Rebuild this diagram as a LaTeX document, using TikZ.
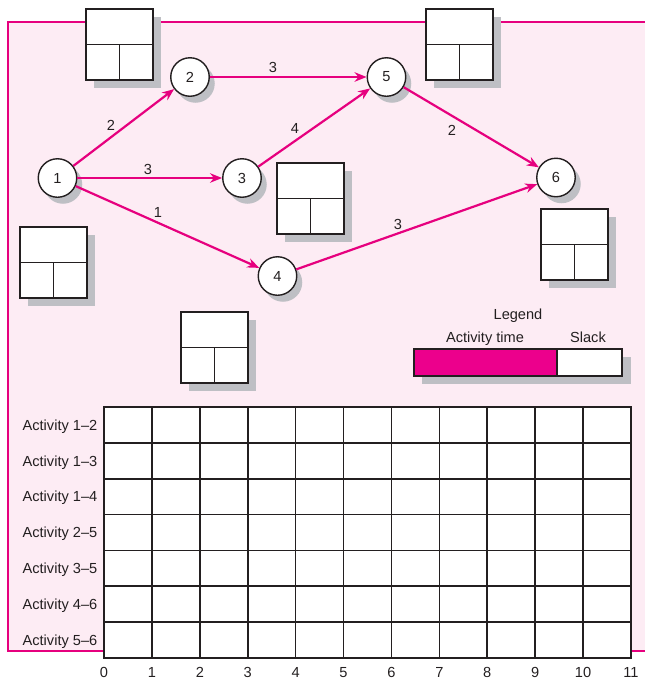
\documentclass[tikz,border=0pt]{standalone}
\usepackage{fontspec}
\setmainfont{Liberation Sans}
\usetikzlibrary{arrows.meta,shadows}
\definecolor{mag}{RGB}{230,0,126}
\definecolor{magfill}{RGB}{236,0,140}
\definecolor{bgpink}{RGB}{253,236,244}
\definecolor{shad}{RGB}{190,191,196}
\definecolor{ink}{RGB}{35,31,32}
\tikzset{
  lbl/.style={font=\fontsize{14.6}{16}\selectfont, text=ink, inner sep=0pt, text height=10.5pt, text depth=0pt},
  boxline/.style={draw=ink, line width=1.7pt},
  gridline/.style={draw=ink, line width=1.7pt},
  event/.style={circle, draw=ink, fill=white, line width=1.4pt, minimum size=38.5pt, inner sep=0pt,
    font=\fontsize{14.6}{16}\selectfont, text=ink,
    drop shadow={shadow xshift=5.5pt, shadow yshift=-6.5pt, fill=shad, opacity=1}},
  arr/.style={draw=mag, line width=2.2pt, -{Stealth[length=12pt,width=9.5pt]}},
}
\newcommand\slackbox[2]{%
  \fill[shad] (#1+8,#2+8) rectangle (#1+75,#2+79);
  \fill[white] (#1,#2) rectangle (#1+67,#2+71);
  \draw[boxline] (#1,#2) rectangle (#1+67,#2+71)
     (#1,#2+35.5) -- (#1+67,#2+35.5)
     (#1+33.5,#2+35.5) -- (#1+33.5,#2+71);
}
\begin{document}
\begin{tikzpicture}[x=1pt,y=-1pt]
\useasboundingbox (0,0) rectangle (645,681);
% frame
\fill[bgpink] (8,22) rectangle (645,651);
\draw[mag, line width=1.5pt] (646,22) -- (8,22) -- (8,651) -- (646,651);
% slack boxes
\slackbox{86}{9}
\slackbox{426}{9}
\slackbox{20}{227}
\slackbox{277}{163}
\slackbox{541}{209}
\slackbox{181}{312}
% events
\node[event] (n1) at (57.5,178) {1};
\node[event] (n2) at (190,77) {2};
\node[event] (n3) at (242,178) {3};
\node[event] (n4) at (277.5,276) {4};
\node[event] (n5) at (386.5,77) {5};
\node[event] (n6) at (556,177.5) {6};
% activities
\draw[arr] (n1) -- (n2);
\draw[arr] (n1) -- (n3);
\draw[arr] (n1) -- (n4);
\draw[arr] (n2) -- (n5);
\draw[arr] (n3) -- (n5);
\draw[arr] (n5) -- (n6);
\draw[arr] (n4) -- (n6);
\node[lbl] (t12) at (111,125) {2};
\node[lbl] (t13) at (148,169) {3};
\node[lbl] (t14) at (158,212) {1};
\node[lbl] (t25) at (273,67) {3};
\node[lbl] (t35) at (295,128) {4};
\node[lbl] (t56) at (452,130) {2};
\node[lbl] (t46) at (398,224) {3};
% legend
\node[lbl] (leg) at (518,314) {Legend};
\node[lbl] (legat) at (485,337) {Activity time};
\node[lbl] (legsl) at (588,337) {Slack};
\fill[shad] (422,357) rectangle (631,384);
\fill[magfill] (414,349) rectangle (557,376);
\fill[white] (557,349) rectangle (622,376);
\draw[boxline] (414,349) rectangle (622,376) (557,349) -- (557,376);
% chart grid
\fill[white] (104,407) rectangle (631,658);
\foreach \i in {0,...,11} {
  \draw[gridline] (104+47.909*\i,407) -- (104+47.909*\i,658);
  \node[lbl] (x\i) at (104+47.909*\i,672) {\i};
}
\foreach \j in {0,...,7}
  \draw[gridline] (103.2,407+35.857*\j) -- (631.8,407+35.857*\j);
\foreach \lab [count=\k from 0] in {1–2,1–3,1–4,2–5,3–5,4–6,5–6}
  \node[lbl, anchor=east] (a\k) at (97.5,425+35.857*\k) {Activity \lab};
\end{tikzpicture}
\end{document}
